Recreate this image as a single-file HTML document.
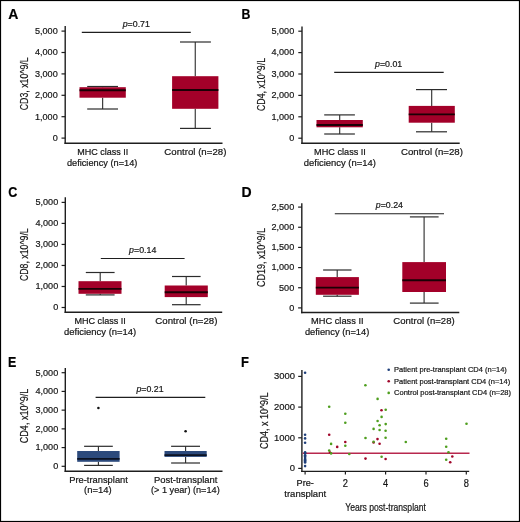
<!DOCTYPE html>
<html><head><meta charset="utf-8"><style>
html,body{margin:0;padding:0;background:#fff;}
body{width:520px;height:522px;overflow:hidden;font-family:"Liberation Sans", sans-serif;}
svg{display:block;will-change:transform;}
</style></head><body>
<svg width="520" height="522" viewBox="0 0 520 522" font-family='"Liberation Sans", sans-serif'>
<style>text{stroke:#141414;stroke-width:0.2px;paint-order:stroke}</style>
<rect x="0" y="0" width="520" height="522" fill="#fff"/>
<text x="8.3" y="19.4" font-size="14" font-weight="bold" fill="#000">A</text>
<line x1="65.2" y1="26" x2="65.2" y2="144.0" stroke="#1e1e1e" stroke-width="1.4"/>
<line x1="64.5" y1="143.3" x2="222.5" y2="143.3" stroke="#1e1e1e" stroke-width="1.4"/>
<line x1="61.5" y1="138.1" x2="65.2" y2="138.1" stroke="#1e1e1e" stroke-width="1.2"/>
<text x="57.7" y="140.9" font-size="9.6" text-anchor="end" fill="#141414" textLength="5.06" lengthAdjust="spacingAndGlyphs">0</text>
<line x1="61.5" y1="116.7" x2="65.2" y2="116.7" stroke="#1e1e1e" stroke-width="1.2"/>
<text x="57.7" y="119.5" font-size="9.6" text-anchor="end" fill="#141414" textLength="22.77" lengthAdjust="spacingAndGlyphs">1,000</text>
<line x1="61.5" y1="95.3" x2="65.2" y2="95.3" stroke="#1e1e1e" stroke-width="1.2"/>
<text x="57.7" y="98.1" font-size="9.6" text-anchor="end" fill="#141414" textLength="22.77" lengthAdjust="spacingAndGlyphs">2,000</text>
<line x1="61.5" y1="73.9" x2="65.2" y2="73.9" stroke="#1e1e1e" stroke-width="1.2"/>
<text x="57.7" y="76.7" font-size="9.6" text-anchor="end" fill="#141414" textLength="22.77" lengthAdjust="spacingAndGlyphs">3,000</text>
<line x1="61.5" y1="52.5" x2="65.2" y2="52.5" stroke="#1e1e1e" stroke-width="1.2"/>
<text x="57.7" y="55.3" font-size="9.6" text-anchor="end" fill="#141414" textLength="22.77" lengthAdjust="spacingAndGlyphs">4,000</text>
<line x1="61.5" y1="31.1" x2="65.2" y2="31.1" stroke="#1e1e1e" stroke-width="1.2"/>
<text x="57.7" y="33.9" font-size="9.6" text-anchor="end" fill="#141414" textLength="22.77" lengthAdjust="spacingAndGlyphs">5,000</text>
<text transform="translate(28.4,83.85) rotate(-90)" x="0" y="0" font-size="10.5" text-anchor="middle" fill="#141414" textLength="52.9" lengthAdjust="spacingAndGlyphs">CD3, x10^9/L</text>
<line x1="102.65" y1="86.5" x2="102.65" y2="87.2" stroke="#2b2b2b" stroke-width="1.1"/>
<line x1="102.65" y1="97.7" x2="102.65" y2="109" stroke="#2b2b2b" stroke-width="1.1"/>
<line x1="87.2" y1="86.5" x2="118" y2="86.5" stroke="#2b2b2b" stroke-width="1.2"/>
<line x1="87.2" y1="109" x2="118" y2="109" stroke="#2b2b2b" stroke-width="1.2"/>
<rect x="79.5" y="87.2" width="46.3" height="10.5" fill="#A30029"/>
<line x1="79.5" y1="90.3" x2="125.8" y2="90.3" stroke="#1a0005" stroke-width="1.9"/>
<line x1="195.25" y1="42" x2="195.25" y2="76.2" stroke="#2b2b2b" stroke-width="1.1"/>
<line x1="195.25" y1="108.8" x2="195.25" y2="128.4" stroke="#2b2b2b" stroke-width="1.1"/>
<line x1="180" y1="42" x2="210.9" y2="42" stroke="#2b2b2b" stroke-width="1.2"/>
<line x1="180" y1="128.4" x2="210.9" y2="128.4" stroke="#2b2b2b" stroke-width="1.2"/>
<rect x="172.1" y="76.2" width="46.3" height="32.6" fill="#A30029"/>
<line x1="172.1" y1="90.0" x2="218.4" y2="90.0" stroke="#1a0005" stroke-width="1.9"/>
<line x1="81.8" y1="32.4" x2="190.8" y2="32.4" stroke="#1e1e1e" stroke-width="1.15"/>
<text x="136.3" y="27.4" font-size="8.8" text-anchor="middle" fill="#141414"><tspan font-style="italic">p</tspan>=0.71</text>
<text x="102.7" y="154.9" font-size="9.4" text-anchor="middle" fill="#141414" textLength="51.0" lengthAdjust="spacingAndGlyphs">MHC class II</text>
<text x="102.15" y="165.5" font-size="9.4" text-anchor="middle" fill="#141414" textLength="70.5" lengthAdjust="spacingAndGlyphs">deficiency (n=14)</text>
<text x="195.35" y="154.9" font-size="9.4" text-anchor="middle" fill="#141414" textLength="62.0" lengthAdjust="spacingAndGlyphs">Control (n=28)</text>
<text x="241.5" y="19.2" font-size="14" font-weight="bold" fill="#000" textLength="8.9" lengthAdjust="spacingAndGlyphs">B</text>
<line x1="302" y1="26.5" x2="302" y2="143.89999999999998" stroke="#1e1e1e" stroke-width="1.4"/>
<line x1="301.3" y1="143.2" x2="459.7" y2="143.2" stroke="#1e1e1e" stroke-width="1.4"/>
<line x1="298.3" y1="138.2" x2="302" y2="138.2" stroke="#1e1e1e" stroke-width="1.2"/>
<text x="294.2" y="141.0" font-size="9.6" text-anchor="end" fill="#141414" textLength="5.06" lengthAdjust="spacingAndGlyphs">0</text>
<line x1="298.3" y1="116.8" x2="302" y2="116.8" stroke="#1e1e1e" stroke-width="1.2"/>
<text x="294.2" y="119.6" font-size="9.6" text-anchor="end" fill="#141414" textLength="22.77" lengthAdjust="spacingAndGlyphs">1,000</text>
<line x1="298.3" y1="95.4" x2="302" y2="95.4" stroke="#1e1e1e" stroke-width="1.2"/>
<text x="294.2" y="98.2" font-size="9.6" text-anchor="end" fill="#141414" textLength="22.77" lengthAdjust="spacingAndGlyphs">2,000</text>
<line x1="298.3" y1="74.0" x2="302" y2="74.0" stroke="#1e1e1e" stroke-width="1.2"/>
<text x="294.2" y="76.8" font-size="9.6" text-anchor="end" fill="#141414" textLength="22.77" lengthAdjust="spacingAndGlyphs">3,000</text>
<line x1="298.3" y1="52.6" x2="302" y2="52.6" stroke="#1e1e1e" stroke-width="1.2"/>
<text x="294.2" y="55.4" font-size="9.6" text-anchor="end" fill="#141414" textLength="22.77" lengthAdjust="spacingAndGlyphs">4,000</text>
<line x1="298.3" y1="31.2" x2="302" y2="31.2" stroke="#1e1e1e" stroke-width="1.2"/>
<text x="294.2" y="34.0" font-size="9.6" text-anchor="end" fill="#141414" textLength="22.77" lengthAdjust="spacingAndGlyphs">5,000</text>
<text transform="translate(264.8,84.5) rotate(-90)" x="0" y="0" font-size="10.5" text-anchor="middle" fill="#141414" textLength="53.2" lengthAdjust="spacingAndGlyphs">CD4, x10^9/L</text>
<line x1="339.7" y1="114.9" x2="339.7" y2="120" stroke="#2b2b2b" stroke-width="1.1"/>
<line x1="339.7" y1="127.3" x2="339.7" y2="134.0" stroke="#2b2b2b" stroke-width="1.1"/>
<line x1="324.2" y1="114.9" x2="354.9" y2="114.9" stroke="#2b2b2b" stroke-width="1.2"/>
<line x1="324.2" y1="134.0" x2="354.9" y2="134.0" stroke="#2b2b2b" stroke-width="1.2"/>
<rect x="316.5" y="120" width="46.3" height="7.3" fill="#A30029"/>
<line x1="316.5" y1="125" x2="362.8" y2="125" stroke="#1a0005" stroke-width="1.9"/>
<line x1="431.7" y1="89.6" x2="431.7" y2="105.9" stroke="#2b2b2b" stroke-width="1.1"/>
<line x1="431.7" y1="122.7" x2="431.7" y2="131.8" stroke="#2b2b2b" stroke-width="1.1"/>
<line x1="416" y1="89.6" x2="447" y2="89.6" stroke="#2b2b2b" stroke-width="1.2"/>
<line x1="416" y1="131.8" x2="447" y2="131.8" stroke="#2b2b2b" stroke-width="1.2"/>
<rect x="408.7" y="105.9" width="46.1" height="16.8" fill="#A30029"/>
<line x1="408.7" y1="114.4" x2="454.8" y2="114.4" stroke="#1a0005" stroke-width="1.9"/>
<line x1="334.2" y1="72.3" x2="443.7" y2="72.3" stroke="#1e1e1e" stroke-width="1.15"/>
<text x="388.6" y="67.10000000000001" font-size="8.8" text-anchor="middle" fill="#141414"><tspan font-style="italic">p</tspan>=0.01</text>
<text x="340" y="154.9" font-size="9.4" text-anchor="middle" fill="#141414" textLength="51.8" lengthAdjust="spacingAndGlyphs">MHC class II</text>
<text x="339.85" y="165.5" font-size="9.4" text-anchor="middle" fill="#141414" textLength="72.1" lengthAdjust="spacingAndGlyphs">deficiency (n=14)</text>
<text x="431.95" y="154.9" font-size="9.4" text-anchor="middle" fill="#141414" textLength="61.9" lengthAdjust="spacingAndGlyphs">Control (n=28)</text>
<text x="8.3" y="197.3" font-size="14" font-weight="bold" fill="#000" textLength="9.1" lengthAdjust="spacingAndGlyphs">C</text>
<line x1="65.3" y1="197.3" x2="65.3" y2="313.0" stroke="#1e1e1e" stroke-width="1.4"/>
<line x1="64.6" y1="312.3" x2="222.2" y2="312.3" stroke="#1e1e1e" stroke-width="1.4"/>
<line x1="61.599999999999994" y1="307.5" x2="65.3" y2="307.5" stroke="#1e1e1e" stroke-width="1.2"/>
<text x="58.2" y="310.3" font-size="9.6" text-anchor="end" fill="#141414" textLength="5.06" lengthAdjust="spacingAndGlyphs">0</text>
<line x1="61.599999999999994" y1="286.48" x2="65.3" y2="286.48" stroke="#1e1e1e" stroke-width="1.2"/>
<text x="58.2" y="289.28" font-size="9.6" text-anchor="end" fill="#141414" textLength="22.77" lengthAdjust="spacingAndGlyphs">1,000</text>
<line x1="61.599999999999994" y1="265.46" x2="65.3" y2="265.46" stroke="#1e1e1e" stroke-width="1.2"/>
<text x="58.2" y="268.26" font-size="9.6" text-anchor="end" fill="#141414" textLength="22.77" lengthAdjust="spacingAndGlyphs">2,000</text>
<line x1="61.599999999999994" y1="244.44" x2="65.3" y2="244.44" stroke="#1e1e1e" stroke-width="1.2"/>
<text x="58.2" y="247.24" font-size="9.6" text-anchor="end" fill="#141414" textLength="22.77" lengthAdjust="spacingAndGlyphs">3,000</text>
<line x1="61.599999999999994" y1="223.42" x2="65.3" y2="223.42" stroke="#1e1e1e" stroke-width="1.2"/>
<text x="58.2" y="226.22" font-size="9.6" text-anchor="end" fill="#141414" textLength="22.77" lengthAdjust="spacingAndGlyphs">4,000</text>
<line x1="61.599999999999994" y1="202.4" x2="65.3" y2="202.4" stroke="#1e1e1e" stroke-width="1.2"/>
<text x="58.2" y="205.2" font-size="9.6" text-anchor="end" fill="#141414" textLength="22.77" lengthAdjust="spacingAndGlyphs">5,000</text>
<text transform="translate(28.2,254.7) rotate(-90)" x="0" y="0" font-size="10.5" text-anchor="middle" fill="#141414" textLength="52.8" lengthAdjust="spacingAndGlyphs">CD8, x10^9/L</text>
<line x1="100.2" y1="272.5" x2="100.2" y2="281.2" stroke="#2b2b2b" stroke-width="1.1"/>
<line x1="100.2" y1="293.8" x2="100.2" y2="294.9" stroke="#2b2b2b" stroke-width="1.1"/>
<line x1="85.8" y1="272.5" x2="114.6" y2="272.5" stroke="#2b2b2b" stroke-width="1.2"/>
<line x1="85.8" y1="294.9" x2="114.6" y2="294.9" stroke="#2b2b2b" stroke-width="1.2"/>
<rect x="78.5" y="281.2" width="43.0" height="12.6" fill="#A30029"/>
<line x1="78.5" y1="288.9" x2="121.5" y2="288.9" stroke="#1a0005" stroke-width="1.9"/>
<line x1="186.2" y1="276.5" x2="186.2" y2="285.5" stroke="#2b2b2b" stroke-width="1.1"/>
<line x1="186.2" y1="297.1" x2="186.2" y2="304.7" stroke="#2b2b2b" stroke-width="1.1"/>
<line x1="172" y1="276.5" x2="200.6" y2="276.5" stroke="#2b2b2b" stroke-width="1.2"/>
<line x1="172" y1="304.7" x2="200.6" y2="304.7" stroke="#2b2b2b" stroke-width="1.2"/>
<rect x="164.7" y="285.5" width="43.1" height="11.6" fill="#A30029"/>
<line x1="164.7" y1="292.3" x2="207.8" y2="292.3" stroke="#1a0005" stroke-width="1.9"/>
<line x1="100.8" y1="258.5" x2="184.6" y2="258.5" stroke="#1e1e1e" stroke-width="1.15"/>
<text x="142.7" y="252.70000000000002" font-size="8.8" text-anchor="middle" fill="#141414"><tspan font-style="italic">p</tspan>=0.14</text>
<text x="100.15" y="324.3" font-size="9.4" text-anchor="middle" fill="#141414" textLength="51.5" lengthAdjust="spacingAndGlyphs">MHC class II</text>
<text x="100.15" y="335.3" font-size="9.4" text-anchor="middle" fill="#141414" textLength="72.1" lengthAdjust="spacingAndGlyphs">deficiency (n=14)</text>
<text x="186.35" y="324.1" font-size="9.4" text-anchor="middle" fill="#141414" textLength="62.1" lengthAdjust="spacingAndGlyphs">Control (n=28)</text>
<text x="241.5" y="197.3" font-size="14" font-weight="bold" fill="#000">D</text>
<line x1="301.8" y1="203.2" x2="301.8" y2="313.2" stroke="#1e1e1e" stroke-width="1.4"/>
<line x1="301.1" y1="312.5" x2="459.3" y2="312.5" stroke="#1e1e1e" stroke-width="1.4"/>
<line x1="298.1" y1="307.9" x2="301.8" y2="307.9" stroke="#1e1e1e" stroke-width="1.2"/>
<text x="294.2" y="310.7" font-size="9.6" text-anchor="end" fill="#141414" textLength="5.06" lengthAdjust="spacingAndGlyphs">0</text>
<line x1="298.1" y1="287.74" x2="301.8" y2="287.74" stroke="#1e1e1e" stroke-width="1.2"/>
<text x="294.2" y="290.54" font-size="9.6" text-anchor="end" fill="#141414" textLength="15.18" lengthAdjust="spacingAndGlyphs">500</text>
<line x1="298.1" y1="267.58" x2="301.8" y2="267.58" stroke="#1e1e1e" stroke-width="1.2"/>
<text x="294.2" y="270.38" font-size="9.6" text-anchor="end" fill="#141414" textLength="22.77" lengthAdjust="spacingAndGlyphs">1,000</text>
<line x1="298.1" y1="247.42" x2="301.8" y2="247.42" stroke="#1e1e1e" stroke-width="1.2"/>
<text x="294.2" y="250.22" font-size="9.6" text-anchor="end" fill="#141414" textLength="22.77" lengthAdjust="spacingAndGlyphs">1,500</text>
<line x1="298.1" y1="227.26" x2="301.8" y2="227.26" stroke="#1e1e1e" stroke-width="1.2"/>
<text x="294.2" y="230.06" font-size="9.6" text-anchor="end" fill="#141414" textLength="22.77" lengthAdjust="spacingAndGlyphs">2,000</text>
<line x1="298.1" y1="207.1" x2="301.8" y2="207.1" stroke="#1e1e1e" stroke-width="1.2"/>
<text x="294.2" y="209.9" font-size="9.6" text-anchor="end" fill="#141414" textLength="22.77" lengthAdjust="spacingAndGlyphs">2,500</text>
<text transform="translate(264.9,257.5) rotate(-90)" x="0" y="0" font-size="10.5" text-anchor="middle" fill="#141414" textLength="59" lengthAdjust="spacingAndGlyphs">CD19, x10^9/L</text>
<line x1="337.2" y1="270.0" x2="337.2" y2="277.1" stroke="#2b2b2b" stroke-width="1.1"/>
<line x1="337.2" y1="294.8" x2="337.2" y2="296.2" stroke="#2b2b2b" stroke-width="1.1"/>
<line x1="323.1" y1="270.0" x2="351.5" y2="270.0" stroke="#2b2b2b" stroke-width="1.2"/>
<line x1="323.1" y1="296.2" x2="351.5" y2="296.2" stroke="#2b2b2b" stroke-width="1.2"/>
<rect x="315.8" y="277.1" width="43.1" height="17.7" fill="#A30029"/>
<line x1="315.8" y1="287.6" x2="358.9" y2="287.6" stroke="#1a0005" stroke-width="1.9"/>
<line x1="424.1" y1="216.9" x2="424.1" y2="262.1" stroke="#2b2b2b" stroke-width="1.1"/>
<line x1="424.1" y1="292.0" x2="424.1" y2="303.1" stroke="#2b2b2b" stroke-width="1.1"/>
<line x1="409.9" y1="216.9" x2="438.6" y2="216.9" stroke="#2b2b2b" stroke-width="1.2"/>
<line x1="409.9" y1="303.1" x2="438.6" y2="303.1" stroke="#2b2b2b" stroke-width="1.2"/>
<rect x="402.3" y="262.1" width="43.7" height="29.9" fill="#A30029"/>
<line x1="402.3" y1="280.2" x2="446" y2="280.2" stroke="#1a0005" stroke-width="1.9"/>
<line x1="334.8" y1="213.7" x2="444" y2="213.7" stroke="#1e1e1e" stroke-width="1.15"/>
<text x="389.4" y="208.3" font-size="8.8" text-anchor="middle" fill="#141414"><tspan font-style="italic">p</tspan>=0.24</text>
<text x="337.3" y="324.4" font-size="9.4" text-anchor="middle" fill="#141414" textLength="52.6" lengthAdjust="spacingAndGlyphs">MHC class II</text>
<text x="337.1" y="335.3" font-size="9.4" text-anchor="middle" fill="#141414" textLength="64.4" lengthAdjust="spacingAndGlyphs">defiency (n=14)</text>
<text x="424.0" y="324.1" font-size="9.4" text-anchor="middle" fill="#141414" textLength="61.4" lengthAdjust="spacingAndGlyphs">Control (n=28)</text>
<text x="8.1" y="366.5" font-size="14" font-weight="bold" fill="#000" textLength="8.3" lengthAdjust="spacingAndGlyphs">E</text>
<line x1="65.3" y1="368.1" x2="65.3" y2="471.9" stroke="#1e1e1e" stroke-width="1.4"/>
<line x1="64.6" y1="471.2" x2="222.5" y2="471.2" stroke="#1e1e1e" stroke-width="1.4"/>
<line x1="61.599999999999994" y1="466.3" x2="65.3" y2="466.3" stroke="#1e1e1e" stroke-width="1.2"/>
<text x="58.2" y="469.1" font-size="9.6" text-anchor="end" fill="#141414" textLength="5.06" lengthAdjust="spacingAndGlyphs">0</text>
<line x1="61.599999999999994" y1="447.58" x2="65.3" y2="447.58" stroke="#1e1e1e" stroke-width="1.2"/>
<text x="58.2" y="450.38" font-size="9.6" text-anchor="end" fill="#141414" textLength="22.77" lengthAdjust="spacingAndGlyphs">1,000</text>
<line x1="61.599999999999994" y1="428.86" x2="65.3" y2="428.86" stroke="#1e1e1e" stroke-width="1.2"/>
<text x="58.2" y="431.66" font-size="9.6" text-anchor="end" fill="#141414" textLength="22.77" lengthAdjust="spacingAndGlyphs">2,000</text>
<line x1="61.599999999999994" y1="410.14" x2="65.3" y2="410.14" stroke="#1e1e1e" stroke-width="1.2"/>
<text x="58.2" y="412.94" font-size="9.6" text-anchor="end" fill="#141414" textLength="22.77" lengthAdjust="spacingAndGlyphs">3,000</text>
<line x1="61.599999999999994" y1="391.42" x2="65.3" y2="391.42" stroke="#1e1e1e" stroke-width="1.2"/>
<text x="58.2" y="394.22" font-size="9.6" text-anchor="end" fill="#141414" textLength="22.77" lengthAdjust="spacingAndGlyphs">4,000</text>
<line x1="61.599999999999994" y1="372.7" x2="65.3" y2="372.7" stroke="#1e1e1e" stroke-width="1.2"/>
<text x="58.2" y="375.5" font-size="9.6" text-anchor="end" fill="#141414" textLength="22.77" lengthAdjust="spacingAndGlyphs">5,000</text>
<text transform="translate(28.2,416) rotate(-90)" x="0" y="0" font-size="10.5" text-anchor="middle" fill="#141414" textLength="54.3" lengthAdjust="spacingAndGlyphs">CD4, x10^9/L</text>
<line x1="98.4" y1="446.3" x2="98.4" y2="451" stroke="#2b2b2b" stroke-width="1.1"/>
<line x1="98.4" y1="461.8" x2="98.4" y2="465.4" stroke="#2b2b2b" stroke-width="1.1"/>
<line x1="84.1" y1="446.3" x2="112.8" y2="446.3" stroke="#2b2b2b" stroke-width="1.2"/>
<line x1="84.1" y1="465.4" x2="112.8" y2="465.4" stroke="#2b2b2b" stroke-width="1.2"/>
<rect x="77.2" y="451" width="42.4" height="10.8" fill="#2C4A7C"/>
<line x1="77.2" y1="458.9" x2="119.6" y2="458.9" stroke="#0b1222" stroke-width="1.9"/>
<circle cx="98.4" cy="408" r="1.3" fill="#111"/>
<line x1="185.6" y1="446.3" x2="185.6" y2="451.0" stroke="#2b2b2b" stroke-width="1.1"/>
<line x1="185.6" y1="456.9" x2="185.6" y2="463" stroke="#2b2b2b" stroke-width="1.1"/>
<line x1="171.1" y1="446.3" x2="200" y2="446.3" stroke="#2b2b2b" stroke-width="1.2"/>
<line x1="171.1" y1="463" x2="200" y2="463" stroke="#2b2b2b" stroke-width="1.2"/>
<rect x="164.5" y="451.0" width="42.2" height="5.9" fill="#2C4A7C"/>
<line x1="164.5" y1="455.1" x2="206.7" y2="455.1" stroke="#0b1222" stroke-width="1.9"/>
<circle cx="185.6" cy="431.2" r="1.3" fill="#111"/>
<line x1="95.6" y1="397.3" x2="205.3" y2="397.3" stroke="#1e1e1e" stroke-width="1.15"/>
<text x="150" y="391.7" font-size="8.8" text-anchor="middle" fill="#141414"><tspan font-style="italic">p</tspan>=0.21</text>
<text x="98.55" y="482.6" font-size="9.4" text-anchor="middle" fill="#141414" textLength="58.7" lengthAdjust="spacingAndGlyphs">Pre-transplant</text>
<text x="97.9" y="493.3" font-size="9.4" text-anchor="middle" fill="#141414" textLength="27.6" lengthAdjust="spacingAndGlyphs">(n=14)</text>
<text x="185.65" y="482.6" font-size="9.4" text-anchor="middle" fill="#141414" textLength="63.5" lengthAdjust="spacingAndGlyphs">Post-transplant</text>
<text x="185.35" y="493.4" font-size="9.4" text-anchor="middle" fill="#141414" textLength="68.7" lengthAdjust="spacingAndGlyphs">(&gt; 1 year) (n=14)</text>
<text x="240.9" y="366.5" font-size="14" font-weight="bold" fill="#000" textLength="7.9" lengthAdjust="spacingAndGlyphs">F</text>
<line x1="301.9" y1="369.9" x2="301.9" y2="471.9" stroke="#1e1e1e" stroke-width="1.4"/>
<line x1="301.2" y1="471.4" x2="469.2" y2="471.4" stroke="#1e1e1e" stroke-width="1.4"/>
<line x1="298.2" y1="468.4" x2="301.9" y2="468.4" stroke="#1e1e1e" stroke-width="1.2"/>
<text x="294.9" y="471.4" font-size="9.6" text-anchor="end" fill="#141414" textLength="5.26" lengthAdjust="spacingAndGlyphs">0</text>
<line x1="298.2" y1="437.8" x2="301.9" y2="437.8" stroke="#1e1e1e" stroke-width="1.2"/>
<text x="294.9" y="440.8" font-size="9.6" text-anchor="end" fill="#141414" textLength="21.02" lengthAdjust="spacingAndGlyphs">1000</text>
<line x1="298.2" y1="407.1" x2="301.9" y2="407.1" stroke="#1e1e1e" stroke-width="1.2"/>
<text x="294.9" y="410.1" font-size="9.6" text-anchor="end" fill="#141414" textLength="21.02" lengthAdjust="spacingAndGlyphs">2000</text>
<line x1="298.2" y1="376.4" x2="301.9" y2="376.4" stroke="#1e1e1e" stroke-width="1.2"/>
<text x="294.9" y="379.4" font-size="9.6" text-anchor="end" fill="#141414" textLength="21.02" lengthAdjust="spacingAndGlyphs">3000</text>
<line x1="305.1" y1="471.4" x2="305.1" y2="474.6" stroke="#1e1e1e" stroke-width="1.2"/>
<line x1="345.4" y1="471.4" x2="345.4" y2="474.6" stroke="#1e1e1e" stroke-width="1.2"/>
<line x1="385.6" y1="471.4" x2="385.6" y2="474.6" stroke="#1e1e1e" stroke-width="1.2"/>
<line x1="426.0" y1="471.4" x2="426.0" y2="474.6" stroke="#1e1e1e" stroke-width="1.2"/>
<line x1="466.3" y1="471.4" x2="466.3" y2="474.6" stroke="#1e1e1e" stroke-width="1.2"/>
<text x="345.4" y="486.7" font-size="10" text-anchor="middle" fill="#141414" textLength="5.17" lengthAdjust="spacingAndGlyphs">2</text>
<text x="385.6" y="486.7" font-size="10" text-anchor="middle" fill="#141414" textLength="5.17" lengthAdjust="spacingAndGlyphs">4</text>
<text x="426.0" y="486.7" font-size="10" text-anchor="middle" fill="#141414" textLength="5.17" lengthAdjust="spacingAndGlyphs">6</text>
<text x="466.3" y="486.7" font-size="10" text-anchor="middle" fill="#141414" textLength="5.17" lengthAdjust="spacingAndGlyphs">8</text>
<text x="305.25" y="486.2" font-size="9.6" text-anchor="middle" fill="#141414" textLength="17.3" lengthAdjust="spacingAndGlyphs">Pre-</text>
<text x="305.2" y="496.7" font-size="9.6" text-anchor="middle" fill="#141414" textLength="41.8" lengthAdjust="spacingAndGlyphs">transplant</text>
<text x="385.6" y="510.9" font-size="10.6" text-anchor="middle" fill="#141414" textLength="80.8" lengthAdjust="spacingAndGlyphs">Years post-transplant</text>
<text transform="translate(268.3,420.7) rotate(-90)" x="0" y="0" font-size="10.5" text-anchor="middle" fill="#141414" textLength="56.6" lengthAdjust="spacingAndGlyphs">CD4, x 10^9/L</text>
<line x1="302.6" y1="453.2" x2="469.5" y2="453.2" stroke="#B8284E" stroke-width="1.5"/>
<circle cx="305.1" cy="372.8" r="1.3" fill="#1F3F7A"/>
<circle cx="305.1" cy="434.7" r="1.3" fill="#1F3F7A"/>
<circle cx="305.1" cy="438.4" r="1.3" fill="#1F3F7A"/>
<circle cx="305.1" cy="442.7" r="1.3" fill="#1F3F7A"/>
<circle cx="305.1" cy="452.2" r="1.3" fill="#1F3F7A"/>
<circle cx="305.1" cy="453.4" r="1.3" fill="#1F3F7A"/>
<circle cx="305.1" cy="455.3" r="1.3" fill="#1F3F7A"/>
<circle cx="305.1" cy="456.5" r="1.3" fill="#1F3F7A"/>
<circle cx="305.1" cy="458.0" r="1.3" fill="#1F3F7A"/>
<circle cx="305.1" cy="459.4" r="1.3" fill="#1F3F7A"/>
<circle cx="305.1" cy="460.3" r="1.3" fill="#1F3F7A"/>
<circle cx="305.1" cy="461.5" r="1.3" fill="#1F3F7A"/>
<circle cx="305.1" cy="462.5" r="1.3" fill="#1F3F7A"/>
<circle cx="305.1" cy="466.1" r="1.3" fill="#1F3F7A"/>
<circle cx="329.2" cy="434.8" r="1.3" fill="#A0062A"/>
<circle cx="345.3" cy="442" r="1.3" fill="#A0062A"/>
<circle cx="337.2" cy="446.9" r="1.3" fill="#A0062A"/>
<circle cx="330" cy="452.5" r="1.3" fill="#A0062A"/>
<circle cx="381.5" cy="410.2" r="1.3" fill="#A0062A"/>
<circle cx="377.5" cy="439.1" r="1.3" fill="#A0062A"/>
<circle cx="373.6" cy="442.5" r="1.3" fill="#A0062A"/>
<circle cx="379.6" cy="443.7" r="1.3" fill="#A0062A"/>
<circle cx="365.5" cy="458.6" r="1.3" fill="#A0062A"/>
<circle cx="385.6" cy="459" r="1.3" fill="#A0062A"/>
<circle cx="452.3" cy="456.5" r="1.3" fill="#A0062A"/>
<circle cx="450.2" cy="462.3" r="1.3" fill="#A0062A"/>
<circle cx="329.2" cy="406.7" r="1.3" fill="#4E9E1E"/>
<circle cx="345.3" cy="413.8" r="1.3" fill="#4E9E1E"/>
<circle cx="345.3" cy="422.8" r="1.3" fill="#4E9E1E"/>
<circle cx="331.1" cy="443.9" r="1.3" fill="#4E9E1E"/>
<circle cx="345.3" cy="445.7" r="1.3" fill="#4E9E1E"/>
<circle cx="329.2" cy="450.6" r="1.3" fill="#4E9E1E"/>
<circle cx="331.1" cy="453.4" r="1.3" fill="#4E9E1E"/>
<circle cx="349.3" cy="454" r="1.3" fill="#4E9E1E"/>
<circle cx="365.4" cy="385.3" r="1.3" fill="#4E9E1E"/>
<circle cx="377.6" cy="398.9" r="1.3" fill="#4E9E1E"/>
<circle cx="385.7" cy="409.7" r="1.3" fill="#4E9E1E"/>
<circle cx="381.6" cy="416.9" r="1.3" fill="#4E9E1E"/>
<circle cx="377.6" cy="421" r="1.3" fill="#4E9E1E"/>
<circle cx="379.6" cy="425.2" r="1.3" fill="#4E9E1E"/>
<circle cx="385.7" cy="424.1" r="1.3" fill="#4E9E1E"/>
<circle cx="373.6" cy="428.9" r="1.3" fill="#4E9E1E"/>
<circle cx="379.6" cy="430" r="1.3" fill="#4E9E1E"/>
<circle cx="385.6" cy="430.8" r="1.3" fill="#4E9E1E"/>
<circle cx="365.5" cy="438" r="1.3" fill="#4E9E1E"/>
<circle cx="385.6" cy="437.8" r="1.3" fill="#4E9E1E"/>
<circle cx="373.6" cy="441.8" r="1.3" fill="#4E9E1E"/>
<circle cx="381.6" cy="456.8" r="1.3" fill="#4E9E1E"/>
<circle cx="405.8" cy="442" r="1.3" fill="#4E9E1E"/>
<circle cx="446.2" cy="438.8" r="1.3" fill="#4E9E1E"/>
<circle cx="446.2" cy="446.8" r="1.3" fill="#4E9E1E"/>
<circle cx="448.5" cy="452.3" r="1.3" fill="#4E9E1E"/>
<circle cx="446.2" cy="459.7" r="1.3" fill="#4E9E1E"/>
<circle cx="466.5" cy="423.8" r="1.3" fill="#4E9E1E"/>
<circle cx="388.7" cy="369.7" r="1.3" fill="#1F3F7A"/>
<text x="394.1" y="372.2" font-size="7.5" text-anchor="start" fill="#141414" >Patient pre-transplant CD4 (n=14)</text>
<circle cx="388.7" cy="381.3" r="1.3" fill="#A0062A"/>
<text x="394.1" y="383.8" font-size="7.5" text-anchor="start" fill="#141414" >Patient post-transplant CD4 (n=14)</text>
<circle cx="388.7" cy="392.9" r="1.3" fill="#4E9E1E"/>
<text x="394.1" y="395.4" font-size="7.5" text-anchor="start" fill="#141414" >Control post-transplant CD4 (n=28)</text>
<rect x="0.5" y="0.5" width="519" height="521" fill="none" stroke="#000" stroke-width="1.2"/>
</svg>
</body></html>
